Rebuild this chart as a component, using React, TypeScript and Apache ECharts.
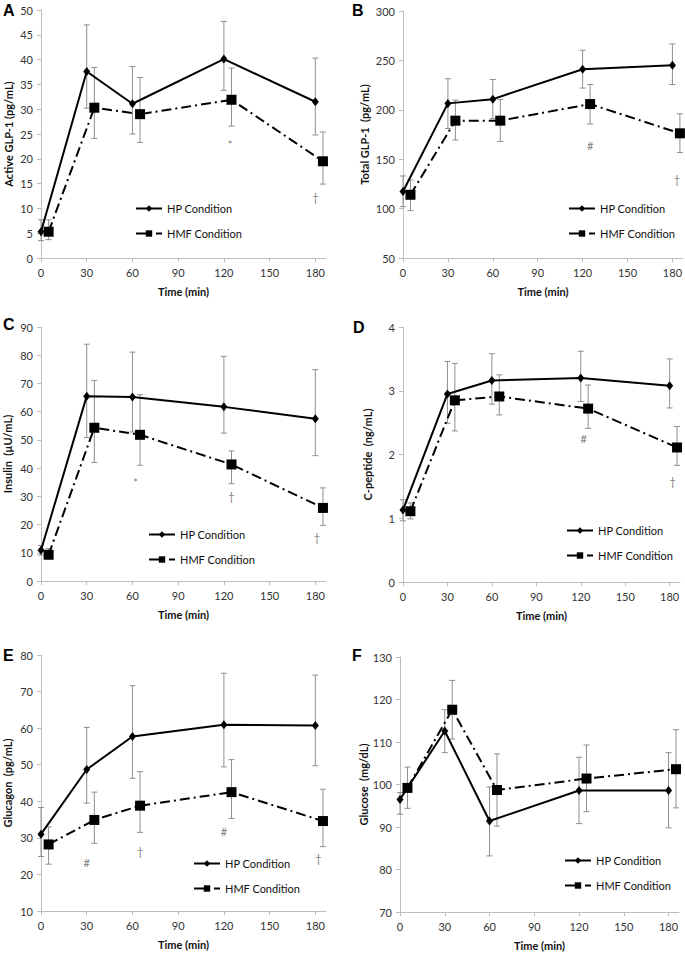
import React, { useEffect, useRef } from "react";
import * as echarts from "echarts";

// ---- data ----
const hpTime = [0, 30, 60, 120, 180];
const hmfTime = [5, 35, 65, 125, 185];
const xTickLabels = [0, 30, 60, 90, 120, 150, 180];

// A: Active GLP-1
const aHp = [5.3, 37.6, 31.1, 40.1, 31.5];
const aHpHi = [7.7, 47.0, 38.6, 47.7, 40.3];
const aHpLo = [3.5, 30.2, 25.0, 33.8, 24.8];
const aHmf = [5.3, 30.3, 29.0, 31.9, 19.5];
const aHmfHi = [7.7, 38.4, 36.4, 38.3, 25.4];
const aHmfLo = [3.7, 24.1, 23.3, 26.6, 14.9];
const aMarkT = [124, 180];
const aMarkV = [22.8, 12.2];
const aMarkS = ["*", "†"];

// B: Total GLP-1
const bHp = [117.3, 206.5, 210.8, 241.1, 245.2];
const bHpHi = [133, 231.4, 230.7, 260.3, 266.7];
const bHpLo = [102, 181, 191, 222, 225.6];
const bHmf = [114, 189, 189, 205.8, 176.2];
const bHmfHi = [129, 209.8, 210.5, 225.6, 196];
const bHmfLo = [98, 169.4, 168, 185.6, 156.7];
const bMarkT = [125, 183];
const bMarkV = [163.7, 129];
const bMarkS = ["#", "†"];

// C: Insulin
const cHp = [10.9, 65.5, 65.2, 61.7, 57.5];
const cHpHi = [12.6, 83.9, 81.1, 79.6, 74.9];
const cHpLo = [9.2, 50.8, 52.8, 52.4, 44.4];
const cHmf = [9.3, 54.3, 51.8, 41.3, 25.9];
const cHmfHi = [11.5, 71.1, 66.0, 46.1, 33.0];
const cHmfLo = [8.0, 42.0, 41.0, 34.5, 19.7];
const cMarkT = [62, 125, 181];
const cMarkV = [34.8, 30.1, 15.4];
const cMarkS = ["*", "†", "†"];

// D: C-peptide
const dHp = [1.13, 2.95, 3.16, 3.2, 3.08];
const dHpHi = [1.29, 3.46, 3.58, 3.62, 3.5];
const dHpLo = [0.96, 2.49, 2.79, 2.83, 2.73];
const dHmf = [1.11, 2.85, 2.91, 2.72, 2.11];
const dHmfHi = [1.24, 3.43, 3.25, 3.09, 2.44];
const dHmfLo = [0.99, 2.37, 2.62, 2.41, 1.83];
const dMarkT = [122, 182];
const dMarkV = [2.25, 1.57];
const dMarkS = ["#", "†"];

// E: Glucagon
const eHp = [31.0, 48.7, 57.7, 60.9, 60.7];
const eHpHi = [38.3, 60.2, 71.6, 75.0, 74.5];
const eHpLo = [24.9, 39.5, 46.3, 49.4, 49.7];
const eHmf = [28.2, 34.9, 38.8, 42.5, 34.6];
const eHmfHi = [33.0, 42.5, 48.1, 51.4, 43.3];
const eHmfLo = [22.8, 28.5, 31.5, 35.3, 27.6];
const eMarkT = [30, 65, 120, 182];
const eMarkV = [23.3, 26.2, 31.7, 24.3];
const eMarkS = ["#", "†", "#", "†"];

// F: Glucose
const fHp = [96.5, 112.6, 91.4, 98.6, 98.6];
const fHpHi = [98.1, 117.6, 99.4, 106.4, 107.5];
const fHpLo = [93.0, 107.5, 83.2, 90.8, 89.8];
const fHmf = [99.2, 117.6, 98.7, 101.4, 103.6];
const fHmfHi = [104.1, 124.5, 107.2, 109.3, 112.9];
const fHmfLo = [94.4, 110.7, 90.2, 93.6, 94.5];
const fMarkT: number[] = [];
const fMarkV: number[] = [];
const fMarkS: string[] = [];

const FONT = "Lato, 'Open Sans', sans-serif";

type Panel = {
  letter: string;
  yName: string;
  yMin: number;
  yMax: number;
  yInt: number;
  grid: { left: number; top: number; width: number; height: number };
  yNameGap: number;
  legend: { left: number; top: number };
  letterPos: [number, number];
  hp: number[]; hpHi: number[]; hpLo: number[];
  hmf: number[]; hmfHi: number[]; hmfLo: number[];
  markT: number[]; markV: number[]; markS: string[];
};

const panels: Panel[] = [
  {
    letter: "A", yName: "Active GLP-1 (pg/mL)", yMin: 0, yMax: 50, yInt: 5,
    grid: { left: 41, top: 10, width: 285, height: 248 }, yNameGap: 27,
    legend: { left: 135, top: 203 }, letterPos: [3, 2],
    hp: aHp, hpHi: aHpHi, hpLo: aHpLo, hmf: aHmf, hmfHi: aHmfHi, hmfLo: aHmfLo,
    markT: aMarkT, markV: aMarkV, markS: aMarkS,
  },
  {
    letter: "B", yName: "Total GLP-1  (pg/mL)", yMin: 50, yMax: 300, yInt: 50,
    grid: { left: 403, top: 11, width: 281, height: 247 }, yNameGap: 33,
    legend: { left: 568, top: 203 }, letterPos: [352, 2],
    hp: bHp, hpHi: bHpHi, hpLo: bHpLo, hmf: bHmf, hmfHi: bHmfHi, hmfLo: bHmfLo,
    markT: bMarkT, markV: bMarkV, markS: bMarkS,
  },
  {
    letter: "C", yName: "Insulin  (µU/mL)", yMin: 0, yMax: 90, yInt: 10,
    grid: { left: 41, top: 327, width: 285, height: 254 }, yNameGap: 28,
    legend: { left: 148, top: 529 }, letterPos: [3, 316],
    hp: cHp, hpHi: cHpHi, hpLo: cHpLo, hmf: cHmf, hmfHi: cHmfHi, hmfLo: cHmfLo,
    markT: cMarkT, markV: cMarkV, markS: cMarkS,
  },
  {
    letter: "D", yName: "C-peptide  (ng/mL)", yMin: 0, yMax: 4, yInt: 1,
    grid: { left: 403, top: 327, width: 277, height: 255 }, yNameGap: 30,
    legend: { left: 566, top: 525 }, letterPos: [353, 319],
    hp: dHp, hpHi: dHpHi, hpLo: dHpLo, hmf: dHmf, hmfHi: dHmfHi, hmfLo: dHmfLo,
    markT: dMarkT, markV: dMarkV, markS: dMarkS,
  },
  {
    letter: "E", yName: "Glucagon  (pg/mL)", yMin: 10, yMax: 80, yInt: 10,
    grid: { left: 41, top: 655, width: 285, height: 256 }, yNameGap: 28,
    legend: { left: 193, top: 858 }, letterPos: [3, 647],
    hp: eHp, hpHi: eHpHi, hpLo: eHpLo, hmf: eHmf, hmfHi: eHmfHi, hmfLo: eHmfLo,
    markT: eMarkT, markV: eMarkV, markS: eMarkS,
  },
  {
    letter: "F", yName: "Glucose  (mg/dL)", yMin: 70, yMax: 130, yInt: 10,
    grid: { left: 400, top: 657, width: 279, height: 255 }, yNameGap: 29,
    legend: { left: 564, top: 855 }, letterPos: [352, 647],
    hp: fHp, hpHi: fHpHi, hpLo: fHpLo, hmf: fHmf, hmfHi: fHmfHi, hmfLo: fHmfLo,
    markT: fMarkT, markV: fMarkV, markS: fMarkS,
  },
];

const ERR_COLOR = "#8f8f8f";
const AXIS_COLOR = "#bdbdbd";
const MARK_COLOR = "#555555";

function errRender(params: any, api: any) {
  const x = api.value(0);
  const lo = api.coord([x, api.value(1)]);
  const hi = api.coord([x, api.value(2)]);
  const w = 3;
  const st = { stroke: ERR_COLOR, lineWidth: 1 };
  return {
    type: "group",
    children: [
      { type: "line", shape: { x1: lo[0], y1: lo[1], x2: hi[0], y2: hi[1] }, style: st },
      { type: "line", shape: { x1: lo[0] - w, y1: lo[1], x2: lo[0] + w, y2: lo[1] }, style: st },
      { type: "line", shape: { x1: hi[0] - w, y1: hi[1], x2: hi[0] + w, y2: hi[1] }, style: st },
    ],
  };
}

function buildOption() {
  const grid: any[] = [];
  const xAxis: any[] = [];
  const yAxis: any[] = [];
  const series: any[] = [];
  const legend: any[] = [];
  const graphic: any[] = [];

  panels.forEach((p, i) => {
    grid.push({ ...p.grid });
    xAxis.push({
      type: "value", gridIndex: i, min: 0, max: 187, interval: 30,
      name: "Time (min)", nameLocation: "middle", nameGap: 28,
      nameTextStyle: { fontFamily: FONT, fontWeight: "bold", fontSize: 11, color: "#111" },
      axisLine: { show: true, lineStyle: { color: AXIS_COLOR, width: 1 } },
      axisTick: { show: true, length: 4, lineStyle: { color: AXIS_COLOR }, customValues: xTickLabels },
      axisLabel: { fontFamily: FONT, fontSize: 11, color: "#333", margin: 9, customValues: xTickLabels },
      splitLine: { show: false },
    });
    yAxis.push({
      type: "value", gridIndex: i, min: p.yMin, max: p.yMax, interval: p.yInt,
      name: p.yName, nameLocation: "middle", nameGap: p.yNameGap, nameRotate: 90,
      nameTextStyle: { fontFamily: FONT, fontWeight: "bold", fontSize: 11, color: "#111" },
      axisLine: { show: true, lineStyle: { color: AXIS_COLOR, width: 1 } },
      axisTick: { show: true, length: 4, lineStyle: { color: AXIS_COLOR } },
      axisLabel: { fontFamily: FONT, fontSize: 11, color: "#333", margin: 8 },
      splitLine: { show: false },
    });
    series.push({
      type: "custom", name: "errHp" + i, xAxisIndex: i, yAxisIndex: i,
      renderItem: errRender, z: 1,
      itemStyle: { color: ERR_COLOR },
      encode: { x: 0, y: [1, 2] },
      data: hpTime.map((t, k) => [t, p.hpLo[k], p.hpHi[k]]),
    });
    series.push({
      type: "custom", name: "errHmf" + i, xAxisIndex: i, yAxisIndex: i,
      renderItem: errRender, z: 1,
      itemStyle: { color: ERR_COLOR },
      encode: { x: 0, y: [1, 2] },
      data: hmfTime.map((t, k) => [t, p.hmfLo[k], p.hmfHi[k]]),
    });
    series.push({
      type: "line", name: "HP Condition", xAxisIndex: i, yAxisIndex: i, z: 3,
      data: hpTime.map((t, k) => [t, p.hp[k]]),
      symbol: "diamond", symbolSize: [7, 9],
      itemStyle: { color: "#000" },
      lineStyle: { color: "#000", width: 2 },
    });
    series.push({
      type: "line", name: "HMF Condition", xAxisIndex: i, yAxisIndex: i, z: 3,
      data: hmfTime.map((t, k) => [t, p.hmf[k]]),
      symbol: "rect", symbolSize: 10,
      itemStyle: { color: "#000" },
      lineStyle: { color: "#000", width: 2, type: [10, 4, 2, 4] },
    });
    const marks = p.markS;
    series.push({
      type: "scatter", name: "marks" + i, xAxisIndex: i, yAxisIndex: i, z: 4,
      symbol: "circle", symbolSize: 1,
      itemStyle: { color: "rgba(0,0,0,0)" },
      silent: true,
      data: p.markT.map((t, k) => [t, p.markV[k]]),
      label: {
        show: true, position: "inside",
        formatter: (prm: any) => marks[prm.dataIndex],
        color: MARK_COLOR, fontFamily: FONT, fontSize: 11,
        textBorderWidth: 0,
      },
    });
    legend.push({
      left: p.legend.left, top: p.legend.top, orient: "vertical",
      padding: 0, itemWidth: 26, itemHeight: 8, itemGap: 14,
      selectedMode: false,
      data: ["HP Condition", "HMF Condition"],
      textStyle: { fontFamily: FONT, fontSize: 11, color: "#111" },
    });
    graphic.push({
      type: "text", left: p.letterPos[0], top: p.letterPos[1],
      style: { text: p.letter, font: "bold 16px 'Liberation Sans', Arial, sans-serif", fill: "#000" },
    });
  });

  return { animation: false, backgroundColor: "#fff", grid, xAxis, yAxis, series, legend, graphic };
}

export default function App() {
  const ref = useRef<HTMLDivElement>(null);
  useEffect(() => {
    if (!ref.current) return;
    const chart = echarts.init(ref.current, null, { renderer: "svg" });
    chart.setOption(buildOption() as any);
    return () => chart.dispose();
  }, []);
  return (
    <div
      ref={ref}
      style={{ position: "absolute", left: 0, top: 0, width: 685, height: 954, background: "#fff" }}
    />
  );
}
